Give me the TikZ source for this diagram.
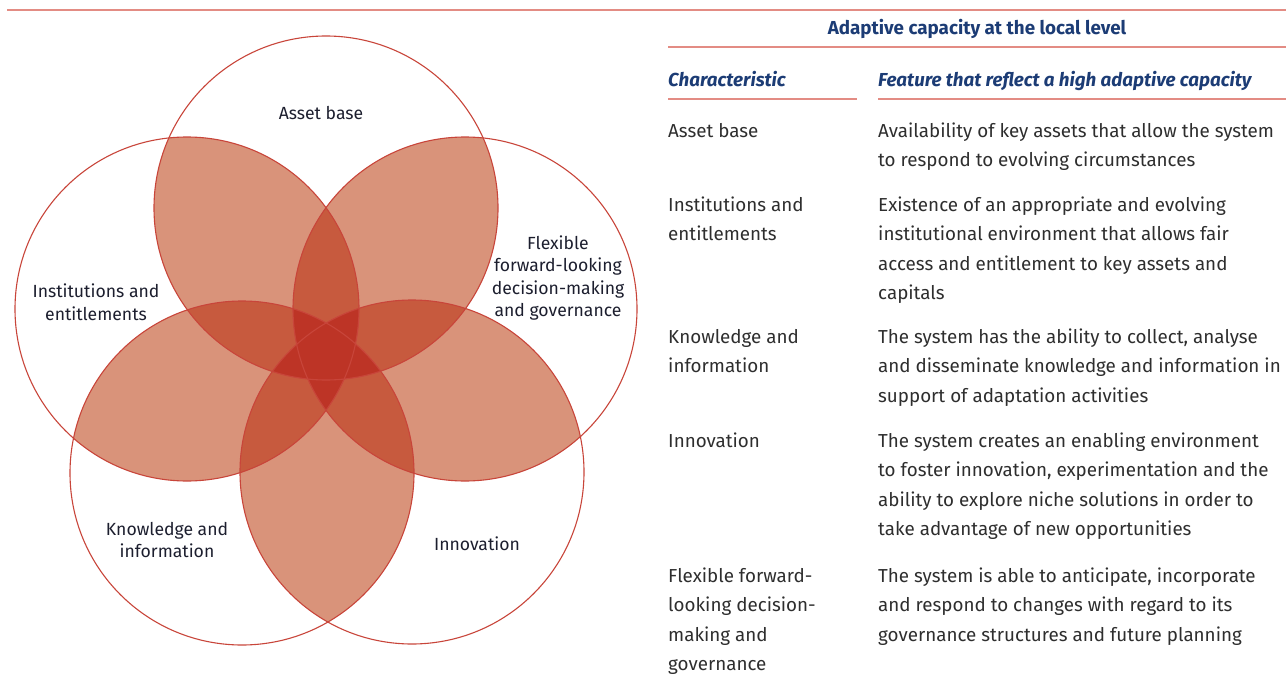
\documentclass[tikz,border=0pt]{standalone}
\usepackage{fontspec}
\setmainfont{Fira Sans}
\definecolor{rulec}{HTML}{E38C84}
\definecolor{navy}{HTML}{1C3C75}
\definecolor{bodyc}{HTML}{2E2E2E}
\definecolor{labc}{HTML}{1C1E2E}
\definecolor{circc}{HTML}{C8453A}
\definecolor{fillA}{HTML}{D9937A}
\definecolor{fillB}{HTML}{C75A3E}
\definecolor{fillC}{HTML}{BD3426}
\tikzset{
  rulel/.style={draw=rulec, line width=2.6pt},
  circline/.style={draw=circc, line width=1.1pt},
  lab/.style={font=\fontsize{17.6}{22.5}\selectfont, text=labc, align=center, inner sep=0pt},
  cell/.style={font=\fontsize{18.8}{29.5}\selectfont, text=bodyc, align=left, anchor=north west, inner sep=0pt},
  head/.style={font=\fontsize{18.8}{22}\selectfont\bfseries\itshape, text=navy, anchor=base west, inner sep=0pt},
}
\begin{document}
\begin{tikzpicture}[x=1pt,y=-1pt]
\useasboundingbox (0,0) rectangle (1286,677);
% circle centres
\coordinate (c1) at (326,208);
\coordinate (c2) at (187,309);
\coordinate (c3) at (242,473);
\coordinate (c4) at (412,472);
\coordinate (c5) at (465,309);
\def\R{172pt}
% exactly two
\foreach \i/\j in {1/2,1/3,1/4,1/5,2/3,2/4,2/5,3/4,3/5,4/5}{
  \begin{scope}
    \clip (c\i) circle[radius=\R];
    \fill[fillA] (c\j) circle[radius=\R];
  \end{scope}
}
% three
\foreach \i/\j/\k in {1/2/3,1/2/4,1/2/5,1/3/4,1/3/5,1/4/5,2/3/4,2/3/5,2/4/5,3/4/5}{
  \begin{scope}
    \clip (c\i) circle[radius=\R];
    \clip (c\j) circle[radius=\R];
    \fill[fillB] (c\k) circle[radius=\R];
  \end{scope}
}
% four or more
\foreach \i/\j/\k/\l in {1/2/3/4,1/2/3/5,1/2/4/5,1/3/4/5,2/3/4/5}{
  \begin{scope}
    \clip (c\i) circle[radius=\R];
    \clip (c\j) circle[radius=\R];
    \clip (c\k) circle[radius=\R];
    \fill[fillC] (c\l) circle[radius=\R];
  \end{scope}
}
\foreach \i in {1,...,5}{
  \draw[circline] (c\i) circle[radius=\R];
}
% circle labels
\node[lab] (lasset) at (321,113) {Asset base};
\node[lab] (linst) at (96,302) {Institutions and\\entitlements};
\node[lab] (lflex) at (558,278) {Flexible\\forward-looking\\decision-making\\and governance};
\node[lab] (lknow) at (167,540) {Knowledge and\\information};
\node[lab] (linno) at (477,544) {Innovation};
% table rules
\coordinate (r0a) at (7,10);   \coordinate (r0b) at (1286,10);
\coordinate (r1a) at (668,47); \coordinate (r1b) at (1286,47);
\coordinate (r2a) at (668,99); \coordinate (r2b) at (857,99);
\coordinate (r3a) at (878,99); \coordinate (r3b) at (1286,99);
\draw[rulel] (r0a) -- (r0b);
\draw[rulel] (r1a) -- (r1b);
\draw[rulel] (r2a) -- (r2b);
\draw[rulel] (r3a) -- (r3b);
% title and headings
\node[font=\fontsize{18.8}{22}\selectfont\bfseries, text=navy, anchor=base, inner sep=0pt] (title) at (977,35) {Adaptive capacity at the local level};
\node[head] (h1) at (668,87) {Characteristic};
\node[head] (h2) at (878,87) {Feature that reflect a high adaptive capacity};
% rows
\node[cell] (a1) at (668,116.35) {\strut Asset base};
\node[cell] (b1) at (878,116.35) {\strut Availability of key assets that allow the system\\to respond to evolving circumstances};
\node[cell] (a2) at (668,190.35) {\strut Institutions and\\entitlements};
\node[cell] (b2) at (878,190.35) {\strut Existence of an appropriate and evolving\\institutional environment that allows fair\\access and entitlement to key assets and\\capitals};
\node[cell] (a3) at (668,322.35) {\strut Knowledge and\\information};
\node[cell] (b3) at (878,322.35) {\strut The system has the ability to collect, analyse\\and disseminate knowledge and information in\\support of adaptation activities};
\node[cell] (a4) at (668,426.35) {\strut Innovation};
\node[cell] (b4) at (878,426.35) {\strut The system creates an enabling environment\\to foster innovation, experimentation and the\\ability to explore niche solutions in order to\\take advantage of new opportunities};
\node[cell] (a5) at (668,561.35) {\strut Flexible forward-\\looking decision-\\making and\\governance};
\node[cell] (b5) at (878,561.35) {\strut The system is able to anticipate, incorporate\\and respond to changes with regard to its\\governance structures and future planning};
\end{tikzpicture}
\end{document}
